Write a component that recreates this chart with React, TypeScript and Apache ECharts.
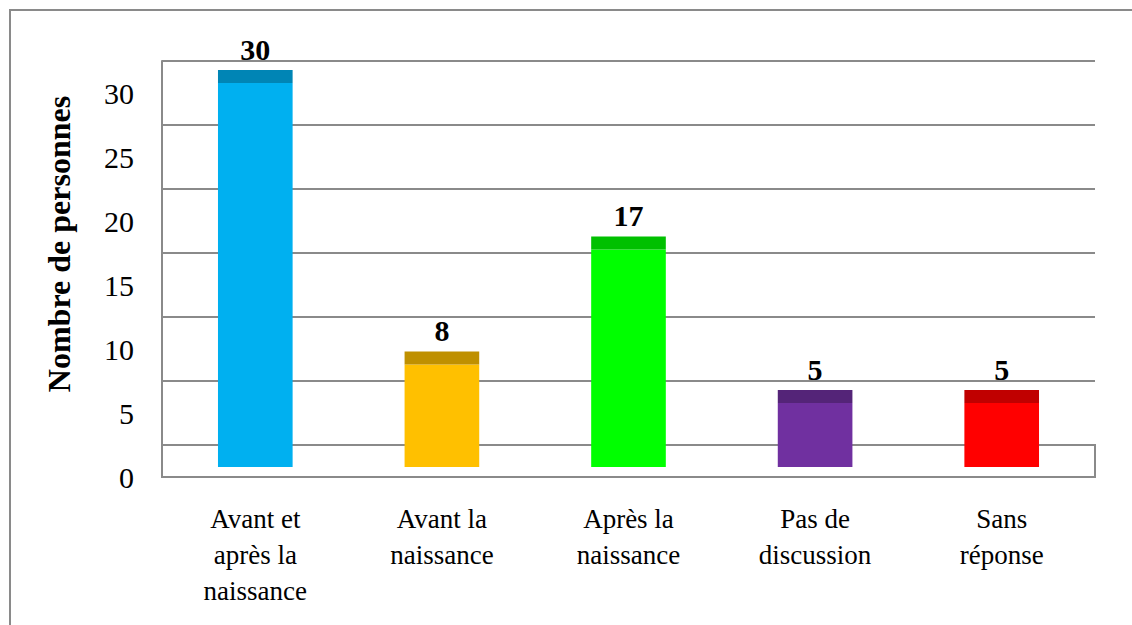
import React, { useEffect, useRef } from "react";
import * as echarts from "echarts";

const categories = [
  "Avant et\naprès la\nnaissance",
  "Avant la\nnaissance",
  "Après la\nnaissance",
  "Pas de\ndiscussion",
  "Sans\nréponse",
];
const values = [30, 8, 17, 5, 5];
const faceColors = ["#00B0F0", "#FFC000", "#00FF00", "#7030A0", "#FF0000"];
const capColors = ["#0085B5", "#BF9000", "#00C000", "#542478", "#C00000"];
const yTicks = { min: 0, max: 30, interval: 5 };
const yTitle = "Nombre de personnes";

const FONT = "Times New Roman, Liberation Serif, DejaVu Serif, serif";
const GRID_COLOR = "#8a8a8a";

export default function App() {
  const ref = useRef<HTMLDivElement>(null);

  useEffect(() => {
    if (!ref.current) return;
    const chart = echarts.init(ref.current, undefined, { renderer: "svg" });
    const option: any = {
      animation: false,
      backgroundColor: "#ffffff",
      textStyle: { fontFamily: FONT },
      grid: [
        { left: 162, top: 61, width: 933, height: 384 },
        { left: 162, top: 93, width: 933, height: 384 },
        { left: 162, top: 83, width: 933, height: 384 },
        {
          left: 162, top: 445, width: 933, height: 32, show: true,
          borderColor: GRID_COLOR, borderWidth: 2, backgroundColor: "transparent",
        },
      ],
      xAxis: [
        { gridIndex: 0, type: "category", data: categories, show: false },
        {
          gridIndex: 1, type: "category", data: categories,
          axisLine: { show: true, lineStyle: { color: GRID_COLOR, width: 2 } },
          axisTick: { show: false },
          axisLabel: {
            interval: 0, margin: 24, color: "#000", fontFamily: FONT,
            fontSize: 27, lineHeight: 36,
          },
        },
        { gridIndex: 2, type: "category", data: categories, show: false },
        { gridIndex: 3, type: "category", data: categories, show: false },
      ],
      yAxis: [
        {
          gridIndex: 0, type: "value", ...yTicks,
          axisLine: { show: true, lineStyle: { color: GRID_COLOR, width: 2 } },
          axisTick: { show: false },
          axisLabel: { show: false },
          splitLine: { show: true, lineStyle: { color: GRID_COLOR, width: 2 } },
        },
        {
          gridIndex: 1, type: "value", ...yTicks,
          axisLine: { show: true, lineStyle: { color: GRID_COLOR, width: 2 } },
          axisTick: { show: false },
          splitLine: { show: false },
          axisLabel: { margin: 28, color: "#000", fontFamily: FONT, fontSize: 30 },
        },
        { gridIndex: 2, type: "value", ...yTicks, show: false, splitLine: { show: false } },
        { gridIndex: 3, type: "value", show: false, splitLine: { show: false } },
      ],
      graphic: [
        {
          type: "rect", shape: { x: 10, y: 10, width: 1300, height: 800 },
          style: { fill: "none", stroke: GRID_COLOR, lineWidth: 2 }, silent: true,
        },
        {
          type: "text", x: 59, y: 244, rotation: Math.PI / 2,
          style: {
            text: yTitle, fontFamily: FONT, fontSize: 32, fontWeight: "bold",
            fill: "#000", align: "center", verticalAlign: "middle",
          },
        },
      ],
      series: [
        {
          type: "custom",
          xAxisIndex: 2,
          yAxisIndex: 2,
          data: values.map((v, i) => [i, v]),
          renderItem: (params: any, api: any) => {
            const idx = api.value(0);
            const v = api.value(1);
            const top = api.coord([idx, v]);
            const base = api.coord([idx, 0]);
            const w = api.size([1, 0])[0] * 0.4;
            const cap = 13;
            const x = top[0] - w / 2;
            return {
              type: "group",
              children: [
                {
                  type: "rect",
                  shape: { x, y: top[1], width: w, height: base[1] - top[1] },
                  style: { fill: faceColors[idx] },
                },
                {
                  type: "rect",
                  shape: { x, y: top[1] - cap, width: w, height: cap },
                  style: { fill: capColors[idx] },
                },
                {
                  type: "text",
                  x: top[0],
                  y: top[1] - cap - 6,
                  style: {
                    text: String(v), fontFamily: FONT, fontSize: 30, fontWeight: "bold",
                    fill: "#000", align: "center", verticalAlign: "bottom",
                  },
                },
              ],
            };
          },
        },
      ],
    };
    chart.setOption(option);
    return () => chart.dispose();
  }, []);

  return (
    <div
      ref={ref}
      style={{ position: "fixed", left: 0, top: 0, width: 1132, height: 625 }}
    />
  );
}
